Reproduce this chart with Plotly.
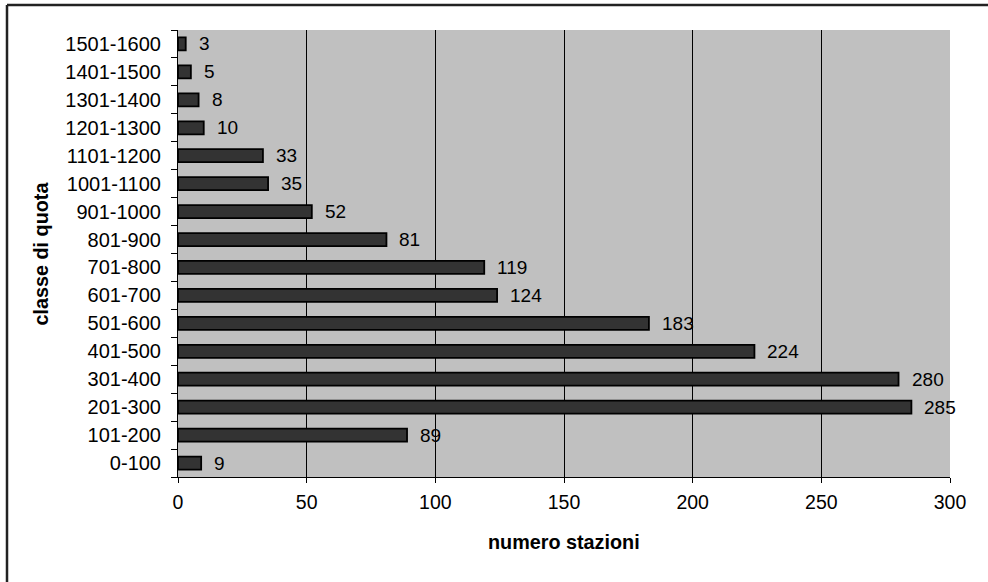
import plotly.graph_objects as go

categories = ["0-100", "101-200", "201-300", "301-400", "401-500", "501-600",
              "601-700", "701-800", "801-900", "901-1000", "1001-1100",
              "1101-1200", "1201-1300", "1301-1400", "1401-1500", "1501-1600"]
values = [9, 89, 285, 280, 224, 183, 124, 119, 81, 52, 35, 33, 10, 8, 5, 3]

FONT = "Arial, Liberation Sans, sans-serif"

fig = go.Figure()
fig.add_trace(go.Bar(
    x=values, y=categories, orientation="h",
    marker=dict(color="#333333", line=dict(color="#000000", width=1.8)),
    hoverinfo="x+y",
))

annotations = [
    dict(x=v, y=c, xref="x", yref="y", text=str(v), showarrow=False,
         xanchor="left", yanchor="middle", xshift=11,
         font=dict(family=FONT, size=19, color="#000000"))
    for c, v in zip(categories, values)
]
annotations.append(dict(x=0.5, y=-0.1454, xref="paper", yref="paper",
                        text="<b>numero stazioni</b>", showarrow=False,
                        xanchor="center", yanchor="middle",
                        font=dict(family=FONT, size=19.8, color="#000000")))
annotations.append(dict(x=-0.1775, y=0.5, xref="paper", yref="paper",
                        text="<b>classe di quota</b>", showarrow=False,
                        textangle=-90, xanchor="center", yanchor="middle",
                        font=dict(family=FONT, size=19.8, color="#000000")))

fig.update_layout(
    width=988, height=582,
    margin=dict(l=178, r=38, t=30, b=105),
    paper_bgcolor="#FFFFFF",
    plot_bgcolor="#C0C0C0",
    bargap=0.535,
    showlegend=False,
    font=dict(family=FONT, size=19, color="#000000"),
    annotations=annotations,
    shapes=[
        dict(type="line", xref="paper", yref="paper", x0=-0.2215, x1=1.06,
             y0=1.0559, y1=1.0559, line=dict(color="#222222", width=2.5)),
        dict(type="line", xref="paper", yref="paper", x0=-0.2215, x1=-0.2215,
             y0=1.0559, y1=-0.25, line=dict(color="#222222", width=2.5)),
    ],
    xaxis=dict(
        range=[0, 300], dtick=50, tick0=0,
        showgrid=True, gridcolor="#000000", gridwidth=1,
        showline=True, linecolor="#000000", linewidth=1,
        ticks="outside", ticklen=5, tickcolor="#000000",
        zeroline=False, ticklabelstandoff=3,
        tickfont=dict(family=FONT, size=19.5),
    ),
    yaxis=dict(
        categoryorder="array", categoryarray=categories,
        showgrid=False,
        showline=True, linecolor="#000000", linewidth=1,
        ticks="outside", ticklen=6, tickcolor="#000000",
        tickson="boundaries", ticklabelstandoff=12,
        tickfont=dict(family=FONT, size=20),
    ),
)

fig.write_html("out.html", config={"displayModeBar": False},
               post_script="document.body.style.margin='0px';document.body.style.overflow='hidden';")
